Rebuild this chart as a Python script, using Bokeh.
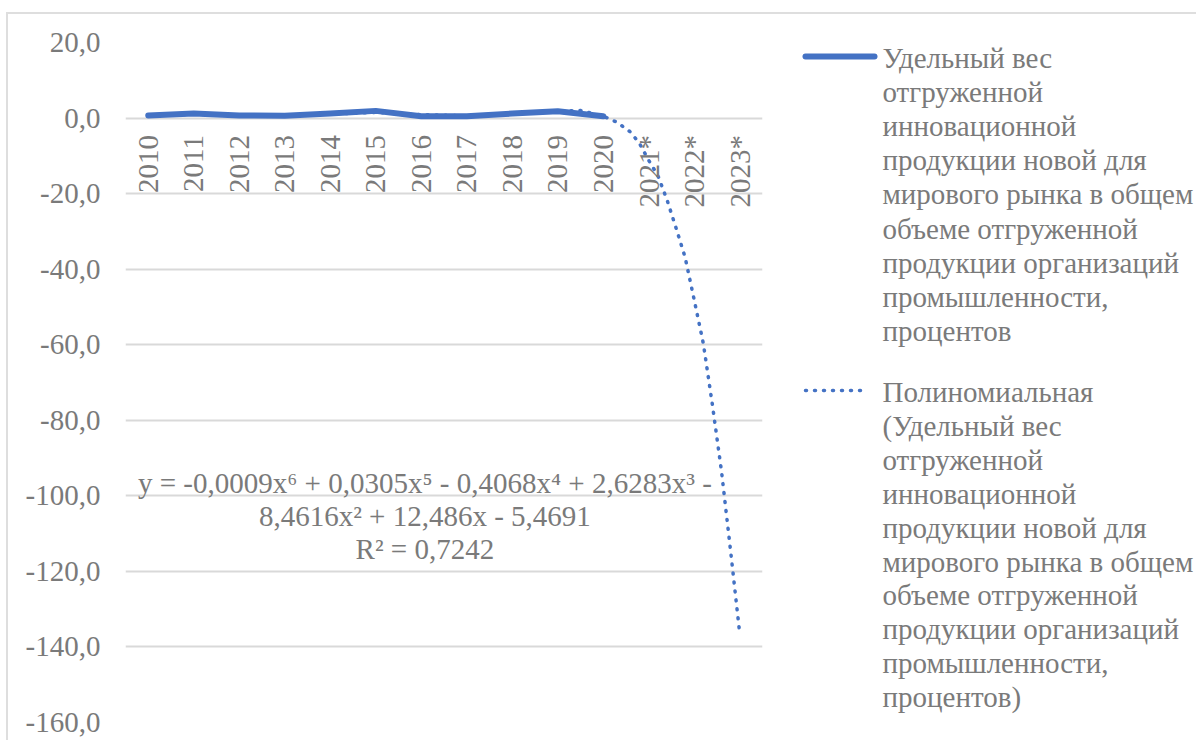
import math
from bokeh.plotting import figure
from bokeh.layouts import row
from bokeh.models import Range1d, FixedTicker, ColumnDataSource, Label
from bokeh.core.properties import value
from bokeh.embed import file_html
from bokeh.resources import INLINE

# ---------------- data ----------------
categories = ["2010", "2011", "2012", "2013", "2014", "2015", "2016", "2017",
              "2018", "2019", "2020", "2021*", "2022*", "2023*"]
share_values = [0.7, 1.2, 0.7, 0.6, 1.2, 1.9, 0.5, 0.5, 1.2, 1.8, 0.45]

# polynomial trendline (position in category units, value)
trend_positions = [0, 1, 2, 3, 4, 5, 6, 7, 8, 9, 9.5, 10, 10.3, 10.6, 10.8, 11,
                   11.2, 11.4, 11.6, 11.8, 12, 12.2, 12.4, 12.6, 12.8, 13]
trend_values = [0.8, 1.0, 0.8, 0.7, 1.0, 1.5, 0.9, 0.6, 1.0, 1.8, 2.0, 0.5, -1.1,
                -3.7, -6.8, -11.2, -15.2, -21.6, -29.1, -36.9, -48.2, -59.7,
                -76.0, -93.6, -114.7, -136.5]

y_ticks = [20, 0, -20, -40, -60, -80, -100, -120, -140, -160]
y_tick_labels = ["20,0", "0,0", "-20,0", "-40,0", "-60,0", "-80,0", "-100,0",
                 "-120,0", "-140,0", "-160,0"]

equation_lines = ["y = -0,0009x⁶ + 0,0305x⁵ - 0,4068x⁴ + 2,6283x³ -",
                  "8,4616x² + 12,486x - 5,4691",
                  "R² = 0,7242"]

legend_series = ["Удельный вес", "отгруженной", "инновационной",
                 "продукции новой для", "мирового рынка в общем",
                 "объеме отгруженной", "продукции организаций",
                 "промышленности,", "процентов"]
legend_trend = ["Полиномиальная", "(Удельный вес", "отгруженной", "инновационной",
                "продукции новой для", "мирового рынка в общем",
                "объеме отгруженной", "продукции организаций",
                "промышленности,", "процентов)"]

# ---------------- style ----------------
FONT = "Liberation Serif, Times New Roman, DejaVu Serif, serif"
TXT = "#7a7a7a"
BLUE = "#4472C4"
FS = "29px"
H = 726
TOP = 14  # page y of figure tops
FRAME_TOP, FRAME_BOTTOM = 42, 722  # page y of the plot frame

p = figure(width=770, height=H, x_range=Range1d(-0.5, len(categories) - 0.5),
           y_range=Range1d(-160, 20), x_axis_type=None,
           toolbar_location=None, output_backend="svg",
           min_border_left=117, min_border_right=16,
           min_border_top=FRAME_TOP - TOP,
           min_border_bottom=H - (FRAME_BOTTOM - TOP))
p.outline_line_color = None
p.background_fill_color = "white"

p.yaxis.ticker = FixedTicker(ticks=y_ticks)
p.yaxis.major_label_overrides = {t: l for t, l in zip(y_ticks, y_tick_labels)}
p.yaxis.axis_line_color = None
p.yaxis.major_tick_line_color = None
p.yaxis.minor_tick_line_color = None
p.yaxis.major_tick_out = 0
p.yaxis.major_tick_in = 0
p.yaxis.major_label_standoff = 25
p.yaxis.major_label_text_font = FONT
p.yaxis.major_label_text_font_size = FS
p.yaxis.major_label_text_color = TXT
p.ygrid.grid_line_color = "#d9d9d9"
p.ygrid.grid_line_width = 2
p.ygrid.ticker = FixedTicker(ticks=y_ticks)

# trend (dotted) then series
p.line(trend_positions, trend_values, line_color=BLUE, line_width=3.5,
       line_dash="1 8", line_cap="round")
p.line(list(range(len(share_values))), share_values, line_color=BLUE,
       line_width=6, line_cap="round", line_join="round")

# category labels placed just under the zero line, rotated
cat_src = ColumnDataSource(dict(x=list(range(len(categories))),
                                y=[0] * len(categories), t=categories))
p.text(x="x", y="y", text="t", source=cat_src, angle=math.pi / 2,
       text_align="right", text_baseline="middle", y_offset=17,
       text_font=value(FONT), text_font_size=FS, text_color=TXT)

# trendline equation
for i, line in enumerate(equation_lines):
    p.add_layout(Label(x=6.08, y=-96.5 - i * 8.8, text=line, text_align="center",
                       text_baseline="middle", text_font=FONT,
                       text_font_size=FS, text_color=TXT))

# ---------------- legend panel ----------------
# the row aligns this panel's frame with the main frame, so y maps to page pixels
lg = figure(width=418, height=H, x_range=Range1d(0, 418),
            y_range=Range1d(FRAME_BOTTOM, FRAME_TOP),
            x_axis_type=None, y_axis_type=None, toolbar_location=None,
            output_backend="svg", min_border=0)
lg.outline_line_color = None
lg.grid.visible = False

lg.line([27, 96], [56, 56], line_color=BLUE, line_width=6, line_cap="round")
lg.line([27, 90], [390, 390], line_color=BLUE, line_width=3.5,
        line_dash="1 8", line_cap="round")

ys1 = [57 + 34.2 * i for i in range(len(legend_series))]
ys2 = [391.5 + 33.9 * i for i in range(len(legend_trend))]
lsrc = ColumnDataSource(dict(x=[104] * (len(ys1) + len(ys2)), y=ys1 + ys2,
                             t=legend_series + legend_trend))
lg.text(x="x", y="y", text="t", source=lsrc, text_align="left",
        text_baseline="middle", text_font=value(FONT), text_font_size=FS,
        text_color=TXT)

layout = row(p, lg, margin=(12, 0, 0, 6),
             styles={"border-top": "2px solid #dedede",
                     "border-left": "2px solid #dedede"})
open("out.html", "w").write(file_html(layout, INLINE))
